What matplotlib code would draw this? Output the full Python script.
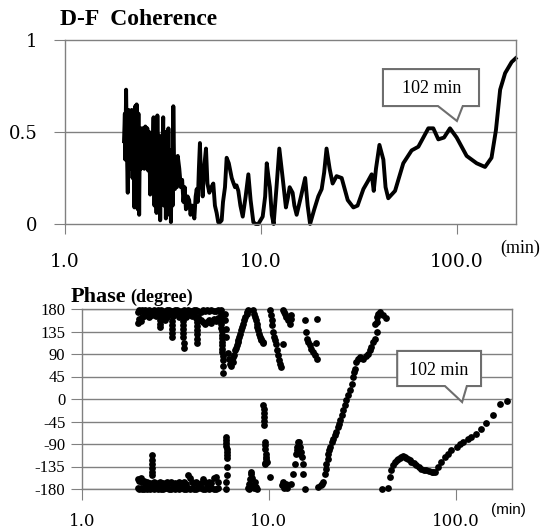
import numpy as np
import matplotlib.pyplot as plt
from matplotlib.patches import Polygon
from matplotlib.ticker import NullLocator

# ---- coherence (period in min, coherence) ----
coh_period = [2.00, 2.02, 2.03, 2.05, 2.07, 2.09, 2.11, 2.13, 2.15, 2.17, 2.19, 2.21, 2.23, 2.26, 2.28,
              2.30, 2.32, 2.35, 2.37, 2.39, 2.41, 2.44, 2.46, 2.49, 2.51, 2.54, 2.57, 2.60, 2.63, 2.66,
              2.69, 2.72, 2.75, 2.78, 2.80, 2.83, 2.86, 2.89, 2.93, 2.96, 2.99, 3.03, 3.06, 3.10, 3.13,
              3.17, 3.20, 3.24, 3.27, 3.31, 3.34, 3.37, 3.41, 3.44, 3.47, 3.51, 3.54, 3.57, 3.61, 3.64,
              3.68, 3.72, 3.76, 3.83, 3.90, 3.96, 4.02, 4.08, 4.14, 4.22, 4.30, 4.37, 4.45, 4.57, 4.64,
              4.70, 4.76, 4.82, 4.88, 4.94, 5.00, 5.04, 5.12, 5.24, 5.33, 5.45, 5.58, 5.71, 5.82, 5.94,
              6.05, 6.18, 6.30, 6.40, 6.55, 6.68, 6.85, 7.09, 7.25, 7.37, 7.50, 7.66, 7.85, 8.07, 8.35,
              8.62, 8.85, 9.14, 9.40, 9.69, 10.2, 10.5, 10.7, 10.9, 11.1, 11.35, 11.6, 12.0, 12.4, 12.9,
              13.4, 13.7, 14.0, 14.5, 14.8, 15.2, 16.0, 16.8, 17.3, 17.8, 18.7, 19.6, 20.4, 21.0, 21.6,
              22.4, 23.2, 24.3, 25.8, 27.7, 29.6, 31.1, 33.3, 35.0, 36.7, 37.6, 38.6, 40.2, 42.1, 43.2,
              44.6, 48.3, 53.2, 58.7, 63.5, 67.3, 71.4, 75.7, 80.3, 85.9, 92.1, 99.6, 112, 126, 139,
              150, 158, 166, 176, 190, 199]
coh_value = [0.45, 0.60, 0.35, 0.73, 0.40, 0.17, 0.62, 0.30, 0.60, 0.45, 0.62, 0.25, 0.55, 0.09, 0.64,
             0.20, 0.65, 0.08, 0.60, 0.05, 0.50, 0.30, 0.52, 0.35, 0.52, 0.30, 0.53, 0.35, 0.52, 0.29,
             0.50, 0.16, 0.45, 0.20, 0.35, 0.58, 0.10, 0.45, 0.06, 0.59, 0.20, 0.48, 0.02, 0.45, 0.30,
             0.58, 0.10, 0.50, 0.03, 0.45, 0.15, 0.52, 0.05, 0.40, 0.01, 0.35, 0.10, 0.64, 0.25, 0.19,
             0.35, 0.20, 0.37, 0.30, 0.20, 0.24, 0.12, 0.20, 0.08, 0.15, 0.13, 0.05, 0.10, 0.03, 0.15,
             0.19, 0.12, 0.30, 0.44, 0.25, 0.20, 0.15, 0.30, 0.41, 0.22, 0.17, 0.20, 0.22, 0.10, 0.06,
             0.01, 0.01, 0.02, 0.12, 0.20, 0.36, 0.33, 0.25, 0.22, 0.20, 0.21, 0.18, 0.10, 0.04, 0.15,
             0.27, 0.13, 0.01, 0.00, 0.00, 0.04, 0.15, 0.33, 0.26, 0.20, 0.05, 0.00, 0.20, 0.41, 0.25,
             0.09, 0.14, 0.20, 0.17, 0.10, 0.05, 0.15, 0.25, 0.10, 0.00, 0.08, 0.15, 0.19, 0.28, 0.41,
             0.30, 0.22, 0.26, 0.25, 0.13, 0.09, 0.10, 0.19, 0.23, 0.27, 0.18, 0.30, 0.43, 0.35, 0.20,
             0.14, 0.18, 0.33, 0.40, 0.42, 0.47, 0.52, 0.52, 0.46, 0.47, 0.52, 0.47, 0.37, 0.33, 0.31,
             0.36, 0.51, 0.73, 0.82, 0.88, 0.90]

# ---- phase (period in min, degree) ----
band_period = [2.00, 2.03, 2.06, 2.10, 2.14, 2.18, 2.22, 2.27, 2.32, 2.37, 2.42, 2.48, 2.54, 2.60,
               2.66, 2.72, 2.79, 2.86, 2.93, 3.00, 3.08, 3.16, 3.24, 3.32, 3.41, 3.50, 3.59, 3.68,
               3.78, 3.88, 3.98, 4.09, 4.20, 4.31, 4.43, 4.55, 4.67, 4.80, 4.93, 5.06, 5.20, 5.34]
band_hi_a = [175, 178, 176, 179, 177, 178, 175, 179, 177, 176, 178, 177, 179, 176, 178, 177, 175,
             179, 178, 176, 177, 179, 178, 176, 177, 179, 175, 178, 177, 176, 179, 178, 177, 175,
             178, 176, 179, 177, 178, 176, 177, 179]
band_hi_b = [152, 160, 156, 165, 166, 170, 169, 164, 171, 168, 170, 166, 172, 167, 160, 169, 171,
             165, 170, 168, 166, 172, 170, 164, 171, 167, 165, 169, 172, 166, 170, 162, 165, 158,
             154, 150, 155, 158, 152, 160, 156, 162]
band_lo_a = [-178, -180, -177, -179, -180, -178, -179, -177, -180, -178, -179, -177, -180, -178,
             -179, -180, -177, -178, -180, -179, -178, -180, -177, -179, -178, -180, -179, -177,
             -180, -178, -179, -180, -178, -177, -180, -179, -178, -180, -177, -179, -180, -178]
band_lo_b = [-160, -163, -158, -166, -164, -168, -165, -170, -167, -169, -166, -170, -168, -165,
             -169, -167, -170, -166, -168, -165, -169, -167, -170, -165, -168, -166, -169, -152,
             -158, -166, -168, -165, -170, -167, -160, -166, -169, -165, -168, -158, -155, -165]

spike_period = [2.61, 2.61, 2.62, 2.78, 3.02, 3.02, 3.03, 3.03, 3.04, 3.47, 3.48, 3.48, 3.49, 3.49,
                3.50, 3.50, 4.10, 4.11, 4.11, 4.12, 4.12, 4.13, 2.36, 2.36, 2.36, 2.37, 2.37, 2.37]
spike_phase = [158, 151, 145, 158, 156, 148, 140, 132, 125, 157, 149, 141, 133, 124, 113, 103,
               154, 146, 138, 130, 121, 112, -152, -145, -138, -130, -121, -112]

col_period = [5.52, 5.53, 5.54, 5.55, 5.56, 5.57, 5.58, 5.59, 5.60, 5.61, 5.62, 5.63, 5.64, 5.65,
              5.66, 5.67, 5.68, 5.84, 5.86, 5.88, 5.90,
              5.90, 5.91, 5.92, 5.93, 5.94, 5.95, 5.96, 5.97, 5.95, 5.94, 5.93, 5.92]
col_phase = [178, 171, 164, 157, 150, 143, 136, 129, 122, 115, 108, 101, 94, 86, 78, 66, 52,
             170, 158, 140, 124,
             -76, -82, -88, -94, -100, -106, -112, -117, -135, -152, -165, -179]

mid_period = [6.05, 6.12, 6.19, 6.25, 6.32, 6.40, 6.45, 6.52, 6.58, 6.65, 6.72, 6.80, 6.86, 6.93,
              7.00, 7.07, 7.14, 7.24, 7.35, 7.47, 7.60, 7.68, 7.75,
              8.25, 8.34, 8.42, 8.50, 8.59, 8.68, 8.77, 8.86, 8.95, 9.04, 9.13, 9.25, 9.32,
              10.1, 10.3, 10.35, 10.45, 10.55, 10.7, 10.8, 10.9, 11.0, 11.15, 11.3, 11.45, 11.6,
              11.9, 12.2, 12.4, 12.65, 12.9, 13.1, 13.2, 11.9, 12.0,
              15.6, 15.8, 16.0, 16.2, 16.6, 16.9, 17.3, 17.6, 18.0, 18.0, 17.9]
mid_phase = [92, 80, 71, 66, 78, 74, 85, 88, 98, 102, 108, 114, 118, 124, 131, 138, 145, 151,
             158, 165, 171, 175, 178,
             178, 171, 165, 158, 151, 144, 138, 131, 125, 121, 118, 115, 112,
             178, 168, 158, 148, 135, 125, 118, 111, 98, 88, 78, 71, 65,
             178, 171, 165, 158, 151, 168, 161, 111, 175,
             158, 135, 121, 115, 108, 101, 95, 88, 81, 161, 113]

low_period = [7.70, 7.80, 7.90, 8.00, 8.05, 8.10, 8.20, 8.30, 8.40, 8.50, 8.60, 8.00, 7.85,
              9.35, 9.38, 9.40, 9.42, 9.44, 9.46, 9.48, 9.50, 9.55, 9.60, 9.62, 9.58, 9.52, 9.70,
              9.75, 10.1, 11.7, 11.9, 12.1, 12.3, 12.5,
              13.2, 13.5, 13.8, 14.0, 14.1, 14.2, 14.3, 14.4, 14.5, 14.6, 14.6, 14.8, 15.0, 15.2,
              15.3, 15.6]
low_phase = [-178, -170, -160, -150, -145, -158, -172, -178, -165, -175, -180, -175, -180,
             -12, -20, -28, -36, -44, -52, -85, -92, -100, -110, -120, -130, -128, -115, -125,
             -155, -172, -165, -178, -170, -178,
             -169, -149, -129, -109, -102, -95, -85, -95, -85, -95, -109, -105, -115, -129, -149,
             -179]

rise_period = [18.4, 18.9, 19.2, 19.5, 19.9, 20.1, 20.3, 20.6, 20.8, 21.0, 21.2, 21.7, 22.1, 22.6,
               23.0, 23.5, 23.8, 24.0, 24.5, 25.0, 25.5, 26.0, 26.5, 27.1, 27.7, 28.3, 28.6, 28.8,
               29.4, 30.0, 30.7, 31.3, 31.9, 33.0, 34.0, 34.7, 35.4, 36.1, 36.9, 37.7, 38.1, 38.4,
               36.9, 37.7, 39.3, 41.0, 42.3]
rise_phase = [-175, -172, -169, -165, -149, -139, -129, -119, -109, -102, -95, -85, -79, -72,
              -65, -55, -49, -42, -32, -22, -12, -2, 8, 18, 31, 45, 55, 61, 75, 81, 85, 83, 81,
              86, 91, 98, 105, 115, 121, 135, 155, 171,
              151, 165, 175, 168, 163]

tail_period = [40.1, 43.5, 44.4, 45.3, 46.3, 47.2, 48.2, 49.2, 50.2, 51.2, 52.3, 53.4, 54.5, 55.6,
               56.7, 57.9, 59.7, 61.6, 63.5, 65.5, 67.6, 69.7, 72.0, 74.2, 75.7, 77.3, 80.5, 83.9,
               87.4, 91.1, 94.9, 101, 105, 110, 117, 121, 129, 137, 146, 159, 172, 187]
tail_phase = [-179, -177, -155, -142, -132, -125, -121, -119, -117, -115, -114, -115, -117, -119,
              -122, -125, -128, -132, -136, -139, -141, -142, -144, -145, -146, -145, -135, -125,
              -115, -109, -102, -95, -89, -85, -79, -75, -69, -59, -47, -31, -9, -4]

phase_period = (band_period * 4 + spike_period + col_period + mid_period + low_period
                + rise_period + tail_period)
phase_deg = (band_hi_a + band_hi_b + band_lo_a + band_lo_b + spike_phase + col_phase + mid_phase
             + low_phase + rise_phase + tail_phase)

grey = '#808080'
serif = 'Liberation Serif'

fig = plt.figure(figsize=(5.42, 5.30), dpi=100)
ax1 = fig.add_axes([65 / 542, 1 - 224 / 530, 451 / 542, 184 / 530])
ax2 = fig.add_axes([82 / 542, 1 - 489 / 530, 430 / 542, 180 / 530])

# top panel
ax1.plot(coh_period, coh_value, color='black', lw=2.8, clip_on=False, solid_joinstyle='round')
ax1.set_xscale('log')
ax1.set_xlim(1, 200)
ax1.set_ylim(0, 1)
ax1.set_yticks([0, 0.5, 1])
ax1.set_yticklabels(['0', '0.5', '1'], family='DejaVu Serif', fontsize=13)
ax1.axhline(0.5, color=grey, lw=1, zorder=0)
ax1.tick_params(axis='y', length=8, color=grey, pad=12)
ax1.tick_params(axis='x', length=7, color=grey, pad=14)

# bottom panel
ax2.scatter(phase_period, phase_deg, s=24, color='black', linewidths=0, clip_on=False, zorder=3)
ax2.set_xscale('log')
ax2.set_xlim(1, 200)
ax2.set_ylim(-180, 180)
ax2.set_yticks(np.arange(-180, 181, 45))
ax2.set_yticklabels([str(v) for v in range(-180, 181, 45)], family=serif, fontsize=12)
ax2.yaxis.grid(True, color=grey, lw=1)
ax2.set_axisbelow(True)
ax2.tick_params(axis='y', length=8, color=grey, pad=4)
ax2.tick_params(axis='x', length=8, color=grey, pad=9)

for ax, fs in ((ax1, 13.5), (ax2, 12)):
    ax.set_xticks([1, 10, 100])
    ax.set_xticklabels(['1.0', '10.0', '100.0'], family='DejaVu Serif', fontsize=fs)
    ax.xaxis.set_minor_locator(NullLocator())
    for s in ax.spines.values():
        s.set_color(grey)
        s.set_linewidth(1)

# titles and unit labels
fig.text(60 / 542, 1 - 25 / 530, 'D-F  Coherence', family=serif, fontsize=17,
         fontweight='bold', ha='left', va='baseline')
fig.text(71 / 542, 1 - 302 / 530, 'Phase', family=serif, fontsize=16,
         fontweight='bold', ha='left', va='baseline')
fig.text(130 / 542, 1 - 302 / 530, '(degree)', family=serif, fontsize=13,
         fontweight='bold', ha='left', va='baseline')
fig.text(520 / 542, 1 - 248 / 530, '(min)', family=serif, fontsize=13, ha='center', va='center')
fig.text(508 / 542, 1 - 510 / 530, '(min)', family='Liberation Sans', fontsize=11,
         ha='center', va='center')


# callouts (axes fraction coordinates)
def callout(ax, x0, x1, y0, y1, b0, b1, tip, text_xy):
    pts = [(x0, y1), (x1, y1), (x1, y0), (b1, y0), tip, (b0, y0), (x0, y0)]
    ax.add_patch(Polygon(pts, closed=True, transform=ax.transAxes, facecolor='white',
                         edgecolor='#6e6e6e', lw=1.5, clip_on=False, zorder=5))
    ax.text(text_xy[0], text_xy[1], '102 min', transform=ax.transAxes, family=serif,
            fontsize=13, ha='center', va='center', zorder=6)


callout(ax1, 0.705, 0.918, 0.641, 0.842, 0.827, 0.882, (0.869, 0.560), (0.812, 0.734))
callout(ax2, 0.733, 0.928, 0.572, 0.767, 0.844, 0.895, (0.884, 0.483), (0.830, 0.661))

fig.savefig('out.png', dpi=100)
